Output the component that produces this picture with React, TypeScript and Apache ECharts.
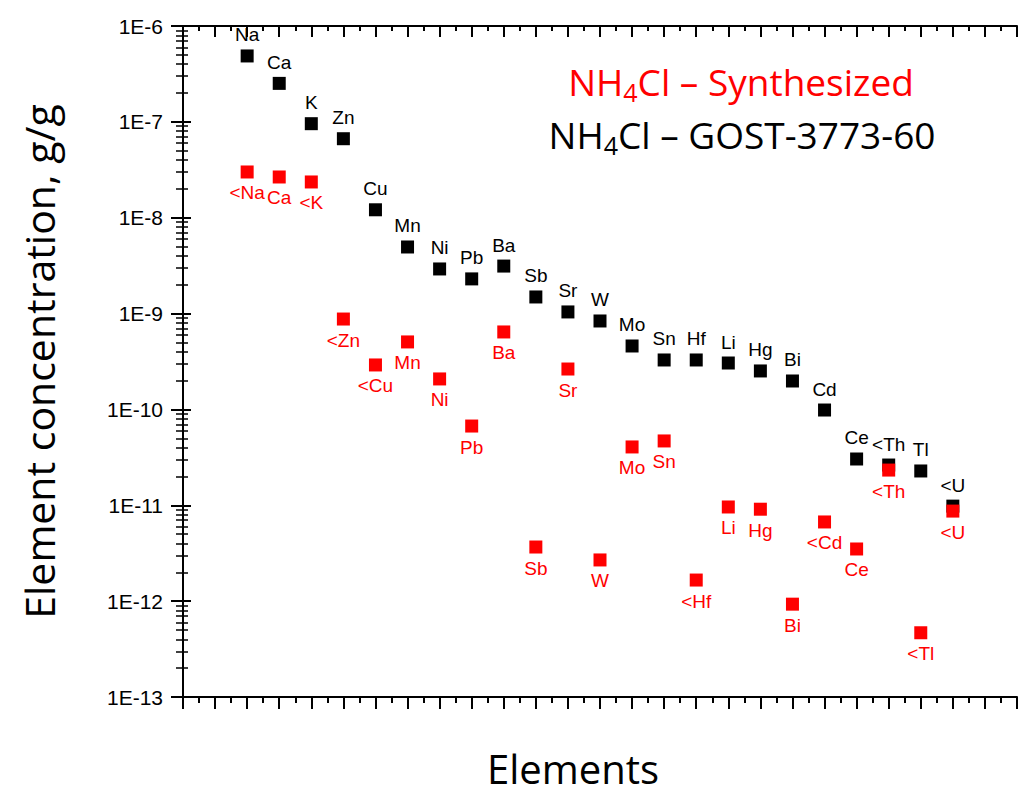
import React, { useEffect, useRef } from "react";
import * as echarts from "echarts";

// Elements, in plotting order
const elements = ["Na", "Ca", "K", "Zn", "Cu", "Mn", "Ni", "Pb", "Ba", "Sb", "Sr", "W", "Mo", "Sn", "Hf", "Li", "Hg", "Bi", "Cd", "Ce", "Th", "Tl", "U"];

// NH4Cl – GOST-3773-60 (black)
const gostValues = [4.87e-7, 2.52e-7, 9.57e-8, 6.67e-8, 1.21e-8, 4.95e-9, 2.92e-9, 2.3e-9, 3.13e-9, 1.49e-9, 1.04e-9, 8.37e-10, 4.59e-10, 3.28e-10, 3.28e-10, 3.05e-10, 2.52e-10, 1.98e-10, 9.86e-11, 3.04e-11, 2.63e-11, 2.28e-11, 9.8e-12];
const gostLabels = ["Na", "Ca", "K", "Zn", "Cu", "Mn", "Ni", "Pb", "Ba", "Sb", "Sr", "W", "Mo", "Sn", "Hf", "Li", "Hg", "Bi", "Cd", "Ce", "<Th", "Tl", "<U"];

// NH4Cl – Synthesized (red)
const synthValues = [3.0e-8, 2.66e-8, 2.36e-8, 8.77e-10, 2.91e-10, 5.06e-10, 2.08e-10, 6.71e-11, 6.43e-10, 3.67e-12, 2.64e-10, 2.69e-12, 4.06e-11, 4.69e-11, 1.66e-12, 9.6e-12, 9.1e-12, 9.3e-13, 6.7e-12, 3.5e-12, 2.33e-11, 4.68e-13, 8.7e-12];
const synthLabels = ["<Na", "Ca", "<K", "<Zn", "<Cu", "Mn", "Ni", "Pb", "Ba", "Sb", "Sr", "W", "Mo", "Sn", "<Hf", "Li", "Hg", "Bi", "<Cd", "Ce", "<Th", "<Tl", "<U"];

// Y tick labels (decades from 1E-13 to 1E-6)
const yTickLabels = ["1E-13", "1E-12", "1E-11", "1E-10", "1E-9", "1E-8", "1E-7", "1E-6"];
const yMinExp = -13;

const seriesNames = ["NH4Cl – GOST-3773-60", "NH4Cl – Synthesized"];
const xAxisName = "Elements";
const yAxisName = "Element concentration, g/g";

// the x axis is a plain tick ruler; element i sits on tick (firstSlot + i)
const firstSlot = 2;
const xMax = 26;

const RED = "#ff0000";
const BLACK = "#000000";

function richName(name: string) {
  // NH4Cl -> NH{sub 4}Cl
  const rest = name.slice(5);
  return `{m|NH}{s|4}{m|Cl${rest}}`;
}

export default function App() {
  const ref = useRef<HTMLDivElement>(null);

  useEffect(() => {
    if (!ref.current) return;
    const chart = echarts.init(ref.current, undefined, { renderer: "svg" });

    const gostData = elements.map((_, i) => [firstSlot + i, gostValues[i]]);
    const synthData = elements.map((_, i) => [firstSlot + i, synthValues[i]]);

    const xAxisCommon = {
      type: "value" as const,
      min: 0,
      max: xMax,
      interval: 1,
      axisLine: { show: true, lineStyle: { color: BLACK, width: 2 } },
      axisLabel: { show: false },
      splitLine: { show: false },
    };
    const yAxisCommon = {
      type: "log" as const,
      logBase: 10,
      min: 1e-13,
      max: 1e-6,
      interval: 1,
      axisLine: { show: true, lineStyle: { color: BLACK, width: 2 } },
      splitLine: { show: false },
      minorSplitLine: { show: false },
    };

    const labelFont = { fontFamily: "Liberation Sans, Arial, sans-serif", fontSize: 19 };

    const legendRich = (color: string) => ({
      m: { fontFamily: "Open Sans", fontSize: 37, lineHeight: 36, fill: color },
      s: { fontFamily: "Open Sans", fontSize: 25, lineHeight: 47, verticalAlign: "bottom", fill: color },
    });

    chart.setOption({
      animation: false,
      grid: { left: 183, right: 8, top: 26, bottom: 96, containLabel: false, outerBoundsMode: "none" },
      xAxis: [
        {
          ...xAxisCommon,
          position: "bottom",
          name: xAxisName,
          nameLocation: "middle",
          nameGap: 50,
          nameTextStyle: {
            fontFamily: "Open Sans",
            fontSize: 40,
            lineHeight: 42,
            color: BLACK,
            padding: [0, 54, 0, 0],
          },
          axisTick: { show: true, inside: false, length: 12, lineStyle: { color: BLACK, width: 2 } },
          minorTick: { show: true, splitNumber: 2, length: 6, lineStyle: { color: BLACK, width: 2 } },
        },
        {
          ...xAxisCommon,
          position: "top",
          axisTick: { show: true, inside: true, length: 11, lineStyle: { color: BLACK, width: 2 } },
          minorTick: { show: true, splitNumber: 2, length: 5, lineStyle: { color: BLACK, width: 2 } },
        },
      ],
      yAxis: [
        {
          ...yAxisCommon,
          position: "left",
          name: yAxisName,
          nameLocation: "middle",
          nameGap: 124,
          nameTextStyle: { fontFamily: "Open Sans", fontSize: 41, color: BLACK },
          axisTick: { show: true, inside: false, length: 12, lineStyle: { color: BLACK, width: 2 } },
          minorTick: { show: true, splitNumber: 9, length: 7, lineStyle: { color: BLACK, width: 1.5 } },
          axisLabel: {
            show: true,
            margin: 20,
            color: BLACK,
            fontFamily: "Liberation Sans, Arial, sans-serif",
            fontSize: 21,
            formatter: (v: number) => {
              const e = Math.round(Math.log10(v));
              return yTickLabels[e - yMinExp] ?? "";
            },
          },
        },
        {
          ...yAxisCommon,
          position: "right",
          axisLabel: { show: false },
          axisTick: { show: true, inside: false, length: 8, lineStyle: { color: BLACK, width: 2 } },
          minorTick: { show: true, splitNumber: 9, length: 5, lineStyle: { color: BLACK, width: 1.5 } },
        },
      ],
      series: [
        {
          name: seriesNames[0],
          type: "scatter",
          xAxisIndex: 0,
          yAxisIndex: 0,
          symbol: "rect",
          symbolSize: 13,
          itemStyle: { color: BLACK, opacity: 1 },
          emphasis: { disabled: true },
          data: gostData,
          label: {
            show: true,
            position: "top",
            distance: 5,
            color: BLACK,
            ...labelFont,
            formatter: (p: any) => gostLabels[p.dataIndex],
          },
          z: 2,
        },
        {
          name: seriesNames[1],
          type: "scatter",
          xAxisIndex: 0,
          yAxisIndex: 0,
          symbol: "rect",
          symbolSize: 13,
          itemStyle: { color: RED, opacity: 1 },
          emphasis: { disabled: true },
          data: synthData,
          label: {
            show: true,
            position: "bottom",
            distance: 5,
            color: RED,
            ...labelFont,
            formatter: (p: any) => synthLabels[p.dataIndex],
          },
          z: 3,
        },
      ],
      graphic: [
        {
          type: "text",
          x: 741,
          y: 81,
          style: {
            text: richName(seriesNames[1]),
            align: "center",
            verticalAlign: "middle",
            fill: RED,
            rich: legendRich(RED),
          },
        },
        {
          type: "text",
          x: 742,
          y: 134,
          style: {
            text: richName(seriesNames[0]),
            align: "center",
            verticalAlign: "middle",
            fill: BLACK,
            rich: legendRich(BLACK),
          },
        },
      ],
    });

    return () => chart.dispose();
  }, []);

  return (
    <div
      ref={ref}
      style={{ position: "fixed", left: 0, top: 0, width: 1025, height: 793, background: "#fff" }}
    />
  );
}
